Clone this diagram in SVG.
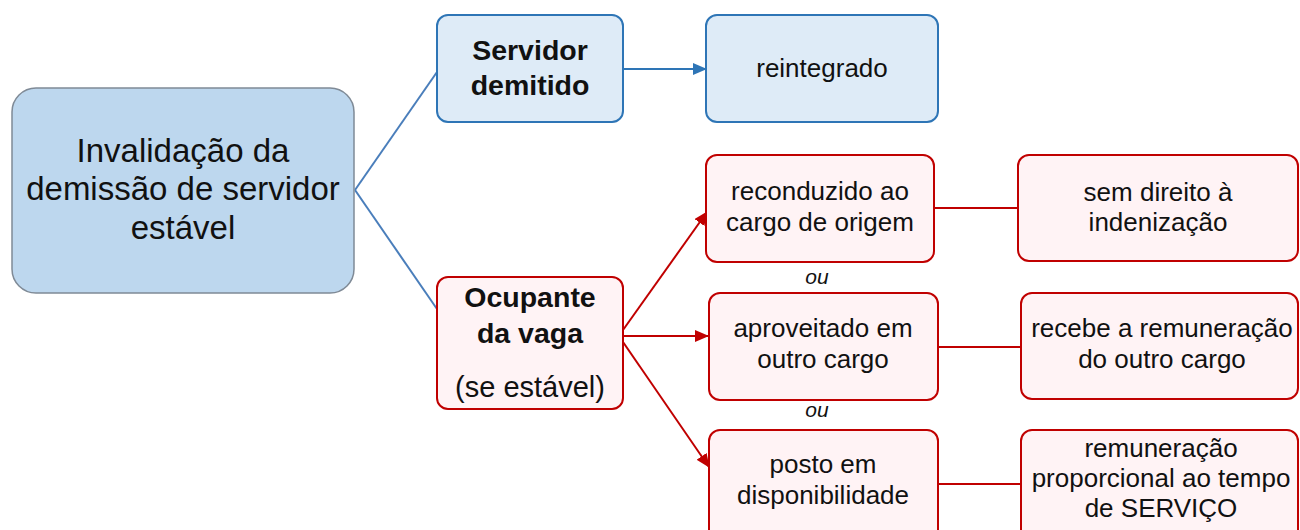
<svg xmlns="http://www.w3.org/2000/svg" width="1300" height="530" viewBox="0 0 1300 530">
<defs>
<style>
text{font-family:"Liberation Sans",Arial,sans-serif;fill:#111;text-anchor:middle}
.main{fill:#BDD7EE;stroke:#7F8A96;stroke-width:1.5}
.blue{fill:#DEEBF7;stroke:#2E75B6;stroke-width:2}
.red{fill:#FFF3F5;stroke:#C00000;stroke-width:2}
.t26{font-size:26px}
.t33{font-size:33px}
.b{font-size:28.5px;font-weight:bold}
.ou{font-size:21px;font-style:italic}
.cb{stroke:#4A7EBB;stroke-width:2;fill:none}
.cb2{stroke:#2E75B6;stroke-width:2;fill:none}
.cr{stroke:#C00000;stroke-width:2;fill:none}
</style>
<marker id="ab" markerUnits="userSpaceOnUse" markerWidth="14" markerHeight="12" refX="13" refY="6" orient="auto"><path d="M0,0 L14,6 L0,12 Z" fill="#2E75B6"/></marker>
<marker id="ar" markerUnits="userSpaceOnUse" markerWidth="14" markerHeight="12" refX="13" refY="6" orient="auto"><path d="M0,0 L14,6 L0,12 Z" fill="#C00000"/></marker>
</defs>
<g id="connectors">
<line class="cb" x1="355" y1="190" x2="437" y2="72"/>
<line class="cb" x1="355" y1="190" x2="437" y2="309"/>
<line class="cb2" x1="623" y1="69" x2="706" y2="69" marker-end="url(#ab)"/>
<line class="cr" x1="623" y1="330" x2="707" y2="212" marker-end="url(#ar)"/>
<line class="cr" x1="623" y1="336" x2="708" y2="336" marker-end="url(#ar)"/>
<line class="cr" x1="623" y1="342" x2="709" y2="467" marker-end="url(#ar)"/>
<line class="cr" x1="934" y1="208" x2="1018" y2="208"/>
<line class="cr" x1="938" y1="347" x2="1021" y2="347"/>
<line class="cr" x1="938" y1="484" x2="1021" y2="484"/>
</g>
<g id="n-main"><rect class="main" x="12" y="88" width="342" height="205" rx="24"/>
<text class="t33" x="183" y="162">Invalidação da</text>
<text class="t33" x="183" y="200">demissão de servidor</text>
<text class="t33" x="183" y="239">estável</text></g>
<g id="n-servidor"><rect class="blue" x="437" y="15" width="186" height="107" rx="11"/>
<text class="b" x="530" y="60">Servidor</text>
<text class="b" x="530" y="95">demitido</text></g>
<g id="n-reintegrado"><rect class="blue" x="706" y="15" width="232" height="107" rx="11"/>
<text class="t26" x="822" y="77">reintegrado</text></g>
<g id="n-ocupante"><rect class="red" x="437" y="277" width="186" height="132" rx="11"/>
<text class="b" x="530" y="307">Ocupante</text>
<text class="b" x="530" y="343">da vaga</text>
<text x="530" y="397" style="font-size:29px">(se estável)</text></g>
<g id="n-reconduzido"><rect class="red" x="706" y="155" width="228" height="107" rx="11"/>
<text class="t26" x="820" y="200">reconduzido ao</text>
<text class="t26" x="820" y="231">cargo de origem</text></g>
<g id="n-aproveitado"><rect class="red" x="709" y="293" width="229" height="107" rx="11"/>
<text class="t26" x="823" y="337">aproveitado em</text>
<text class="t26" x="823" y="368">outro cargo</text></g>
<g id="n-posto"><rect class="red" x="709" y="430" width="229" height="110" rx="11"/>
<text class="t26" x="823" y="473">posto em</text>
<text class="t26" x="823" y="504">disponibilidade</text></g>
<g id="n-sem"><rect class="red" x="1018" y="155" width="280" height="106" rx="11"/>
<text class="t26" x="1158" y="201">sem direito à</text>
<text class="t26" x="1158" y="231">indenização</text></g>
<g id="n-recebe"><rect class="red" x="1021" y="293" width="277" height="106" rx="11"/>
<text class="t26" x="1162" y="337">recebe a remuneração</text>
<text class="t26" x="1162" y="368">do outro cargo</text></g>
<g id="n-remun"><rect class="red" x="1021" y="430" width="277" height="110" rx="11"/>
<text class="t26" x="1161" y="457">remuneração</text>
<text class="t26" x="1161" y="487">proporcional ao tempo</text>
<text class="t26" x="1161" y="517">de SERVIÇO</text></g>
<g id="labels">
<text class="ou" x="817" y="284">ou</text>
<text class="ou" x="817" y="417">ou</text>
</g>
</svg>
